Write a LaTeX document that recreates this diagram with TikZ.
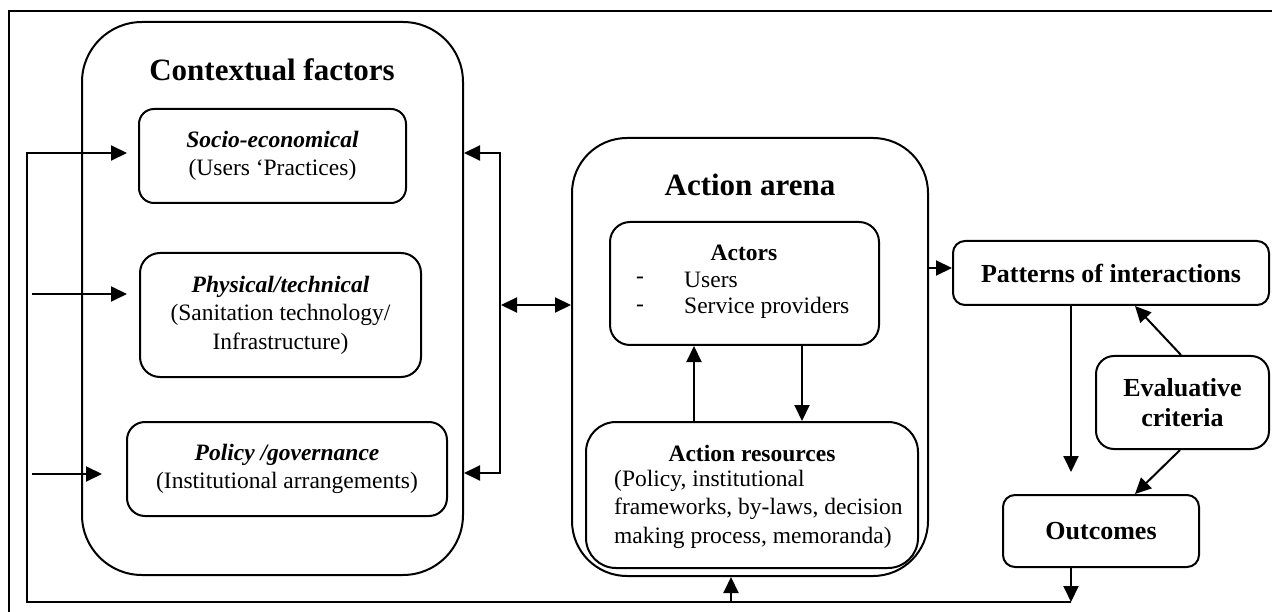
\documentclass[tikz,border=0pt]{standalone}
\usepackage{fontspec}
\setmainfont{Liberation Serif}
\usetikzlibrary{arrows.meta}
\begin{document}
\begin{tikzpicture}[x=1pt,y=-1pt,
  ln/.style={line width=2pt},
  tip/.style={},
  arr/.style={ln,-{Triangle[length=16pt,width=15pt]}},
  darr/.style={ln,{Triangle[length=16pt,width=15pt]}-{Triangle[length=16pt,width=15pt]}},
  rbox/.style={draw,ln,rounded corners=#1,inner sep=0pt,align=center},
  body/.style={font=\fontsize{23.5}{28.5}\selectfont},
  ttl/.style={font=\fontsize{31}{37}\selectfont\bfseries},
  bld/.style={font=\fontsize{26}{30}\selectfont\bfseries,align=center},
  plain/.style={inner sep=0pt}
]
\useasboundingbox (0,0) rectangle (1272,612);
% outer frame (cropped)
\draw[line width=2.6pt] (9,612) -- (9,11) -- (1272,11);

% contextual factors
\node[rbox=60pt,minimum width=381pt,minimum height=553pt] (ctx) at (272.5,298.5) {};
\node[ttl,plain] (ctxt) at (272,70) {Contextual factors};
\node[rbox=15pt,body,minimum width=267pt,minimum height=94pt] (socio) at (272.5,156)
  {\textbf{\textit{Socio-economical}}\\(Users ‘Practices)};
\node[rbox=20pt,body,minimum width=281pt,minimum height=124pt] (phys) at (280.5,315)
  {\textbf{\textit{Physical/technical}}\\(Sanitation technology/\\Infrastructure)};
\node[rbox=18pt,body,minimum width=320pt,minimum height=94pt] (pol) at (287,469)
  {\textbf{\textit{Policy /governance}}\\(Institutional arrangements)};

% action arena
\node[rbox=55pt,minimum width=356pt,minimum height=438pt] (arena) at (750,357) {};
\node[ttl,plain] (arenat) at (750,185) {Action arena};
\node[rbox=20pt,minimum width=269pt,minimum height=123pt] (actors) at (744.5,283.5) {};
\node[body,plain,font=\fontsize{23.5}{28.5}\selectfont\bfseries] (actorst) at (744,253) {Actors};
\node[body,plain] (d1) at (640,280) {-};
\node[body,plain] (d2) at (640,308) {-};
\node[body,plain,anchor=west] (users) at (684,280) {Users};
\node[body,plain,anchor=west] (sp) at (684,308) {Service providers};
\node[rbox=30pt,minimum width=332pt,minimum height=146pt] (res) at (752,495) {};
\node[body,plain,font=\fontsize{23.5}{28.5}\selectfont\bfseries] (rest) at (752,453) {Action resources};
\node[body,plain,anchor=west,align=left] (resb) at (614,509)
  {(Policy, institutional\\frameworks, by-laws, decision\\making process, memoranda)};

% right side
\node[rbox=12pt,bld,minimum width=316pt,minimum height=64pt] (patt) at (1111,273) {Patterns of interactions};
\node[rbox=18pt,bld,minimum width=173pt,minimum height=93pt] (eval) at (1182.5,402.5) {Evaluative\\criteria};
\node[rbox=12pt,bld,minimum width=196pt,minimum height=72pt] (outc) at (1101,531) {Outcomes};

% helper coordinates
\coordinate (fbR) at (1071,602);
\coordinate (fbL) at (27,602);
\coordinate (fbT) at (27,153);
\coordinate (socioIn) at (127,153);
\coordinate (physA) at (32,294);
\coordinate (physIn) at (127,294);
\coordinate (polA) at (32,474);
\coordinate (polIn) at (102,474);
\coordinate (brT) at (500,153);
\coordinate (brB) at (500,473);
\coordinate (dA) at (501,305);
\coordinate (upA) at (694,0);
\coordinate (dnA) at (802,0);
\coordinate (upB) at (731,602);
\coordinate (pa) at (928,268);
\coordinate (pdTop) at (1071,0);
\coordinate (pdEnd) at (1071,472);
\coordinate (pe) at (1135,0);
\coordinate (ev1) at (1181,0);
\coordinate (ev2) at (1180,0);

% connectors
\draw[arr] (outc.south -| fbR) -- (fbR);
\draw[arr] (fbR) -- (fbL) -- (fbT) -- (socioIn);
\draw[arr] (physA) -- (physIn);
\draw[arr] (polA) -- (polIn);
\draw[darr] (brT -| ctx.east) -- (brT) -- (brB) -- (brB -| ctx.east);
\draw[darr] (dA) -- (dA -| arena.west);
\draw[arr] (upA |- res.north) -- (upA |- actors.south);
\draw[arr] (dnA |- actors.south) -- (dnA |- res.north);
\draw[arr] (upB) -- (upB |- arena.south);
\draw[arr] (pa -| arena.east) -- (pa -| patt.west);
\draw[arr] (pdTop |- patt.south) -- (pdEnd);
\draw[arr] (ev1 |- eval.north) -- (pe |- patt.south);
\draw[arr] (ev2 |- eval.south) -- (pe |- outc.north);
\end{tikzpicture}
\end{document}
